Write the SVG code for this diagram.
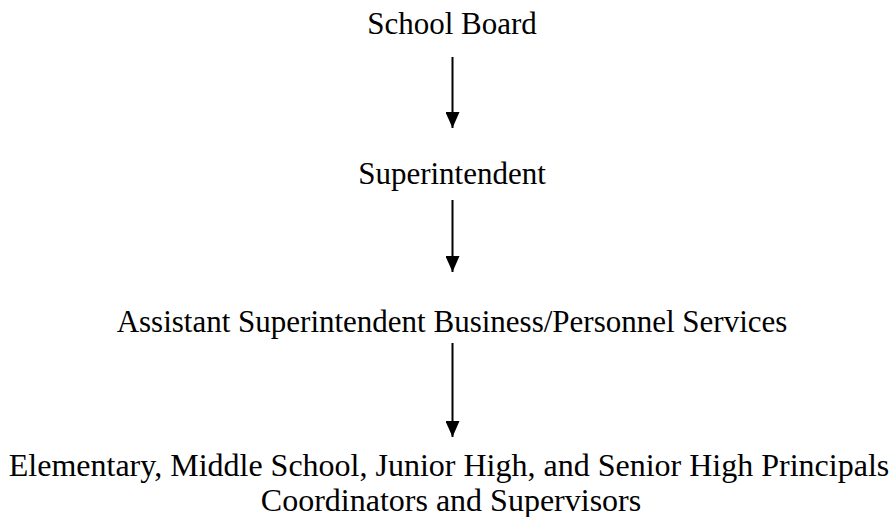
<svg xmlns="http://www.w3.org/2000/svg" width="896" height="517" viewBox="0 0 896 517">
<defs>
<style>
text{font-family:"Liberation Serif","Times New Roman",serif;font-size:31px;fill:#000;text-anchor:middle}
.big{font-size:32px}
.conn line{stroke:#000;stroke-width:2}
</style>
<marker id="ah" viewBox="0 0 16 14" markerWidth="16" markerHeight="14" refX="16" refY="7" orient="auto" markerUnits="userSpaceOnUse">
<path d="M0,0 L16,7 L0,14 Z" fill="#000"/>
</marker>
</defs>
<rect width="896" height="517" fill="#fff"/>
<g id="n1"><text x="452" y="34">School Board</text></g>
<g id="n2"><text x="452" y="184">Superintendent</text></g>
<g id="n3"><text x="452" y="332">Assistant Superintendent Business/Personnel Services</text></g>
<g id="n4"><text class="big" x="449" y="476">Elementary, Middle School, Junior High, and Senior High Principals</text><text class="big" x="451" y="511">Coordinators and Supervisors</text></g>
<g class="conn" id="connectors">
<line x1="452.5" y1="57" x2="452.5" y2="128" marker-end="url(#ah)"/>
<line x1="452.5" y1="200" x2="452.5" y2="272" marker-end="url(#ah)"/>
<line x1="452.5" y1="343" x2="452.5" y2="437" marker-end="url(#ah)"/>
</g>
</svg>
